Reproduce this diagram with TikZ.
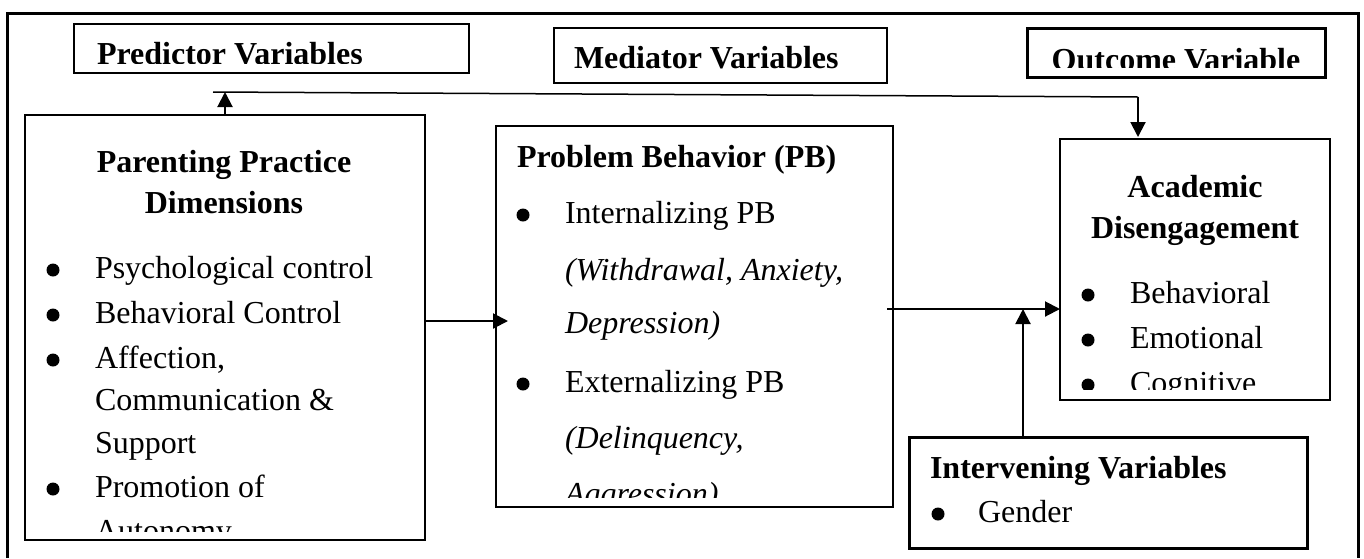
\documentclass[tikz,border=0pt]{standalone}
\usepackage{fontspec}
\setmainfont{Liberation Serif}
\usetikzlibrary{arrows.meta}
\begin{document}
\begin{tikzpicture}[x=1pt,y=-1pt,
  box/.style={draw, line width=#1, inner sep=0pt, outer sep=0pt},
  box/.default=2pt,
  txt/.style={inner sep=0pt, outer sep=0pt, font=\fontsize{32}{38}\selectfont, anchor=base west},
  hd/.style={txt, font=\fontsize{32}{38}\selectfont\bfseries},
  chd/.style={hd, anchor=base},
  bul/.style={circle, fill, inner sep=0pt, minimum size=13pt, yshift=8pt},
  conn/.style={line width=2pt, -{Triangle[length=15pt,width=15pt]}},
  thin line/.style={line width=1.5pt},
]
\useasboundingbox (0,0) rectangle (1364,558);
% outer frame
\draw[line width=3pt] (7,558) -- (7,13) -- (1358,13) -- (1358,558);

% boxes
\node[box=2pt, minimum width=395pt, minimum height=49pt] (pred) at (271.5,48.5) {};
\node[box=1.5pt, minimum width=333pt, minimum height=55pt] (med) at (720.5,55.5) {};
\node[box=3pt, minimum width=298pt, minimum height=49pt] (out) at (1176,52.5) {};
\node[box=2.5pt, minimum width=400pt, minimum height=425pt] (par) at (225,327.5) {};
\node[box=2pt, minimum width=397pt, minimum height=381pt] (pb) at (694.5,316.5) {};
\node[box=2.5pt, minimum width=270pt, minimum height=261pt] (acad) at (1195,269.5) {};
\node[box=3pt, minimum width=398pt, minimum height=111pt] (inter) at (1108,492.5) {};

% header texts
\begin{scope}
\clip (74,24) rectangle (469,63);
\node[hd] (tpred) at (97,64) {Predictor Variables};
\end{scope}
\node[hd] (tmed) at (574,68) {Mediator Variables};
\begin{scope}
\clip (1027,28) rectangle (1325,67);
\node[chd] (tout) at (1176,70) {Outcome Variable};
\end{scope}

% parenting box
\node[chd] (p1) at (224,172) {Parenting Practice};
\node[chd] (p2) at (224,213) {Dimensions};
\node[bul] (pb1) at (53,278) {};
\node[bul] (pb2) at (53,323) {};
\node[bul] (pb3) at (53,368) {};
\node[bul] (pb4) at (53,497) {};
\node[txt] (pl1) at (95,278) {Psychological control};
\node[txt] (pl2) at (95,323) {Behavioral Control};
\node[txt] (pl3) at (95,368) {Affection,};
\node[txt] (pl4) at (95,410) {Communication \&};
\node[txt] (pl5) at (95,453) {Support};
\node[txt] (pl6) at (95,497) {Promotion of};
\begin{scope}
\clip (26,116) rectangle (424,531);
\node[txt] (pl7) at (95,541) {Autonomy};
\end{scope}

% problem behaviour box
\node[hd] (bh) at (517,167) {Problem Behavior (PB)};
\node[bul] (bb1) at (523,223) {};
\node[bul] (bb2) at (523,392) {};
\node[txt] (bl1) at (565,223) {Internalizing PB};
\node[txt] (bl2) at (565,280) {\itshape (Withdrawal, Anxiety,};
\node[txt] (bl3) at (565,333) {\itshape Depression)};
\node[txt] (bl4) at (565,392) {Externalizing PB};
\node[txt] (bl5) at (565,448) {\itshape (Delinquency,};
\begin{scope}
\clip (497,127) rectangle (892,497);
\node[txt] (bl6) at (565,504) {\itshape Aggression)};
\end{scope}

% academic box
\node[chd] (a1) at (1195,197) {Academic};
\node[chd] (a2) at (1195,238) {Disengagement};
\node[bul] (ab1) at (1088,303) {};
\node[bul] (ab2) at (1088,348) {};
\node[txt] (al1) at (1130,303) {Behavioral};
\node[txt] (al2) at (1130,348) {Emotional};
\begin{scope}
\clip (1061,140) rectangle (1329,389);
\node[bul] (ab3) at (1088,393) {};
\node[txt] (al3) at (1130,393) {Cognitive};
\end{scope}

% intervening box
\node[hd] (ih) at (930,478) {Intervening Variables};
\node[bul] (ib1) at (938,522) {};
\node[txt] (il1) at (978,522) {Gender};

% connectors
\coordinate (tl) at (213,92);
\coordinate (tr) at (1138,97);
\coordinate (ya) at (0,321);
\coordinate (yb) at (0,309);
\coordinate (xc) at (1023,0);
\draw[conn] (par.north) -- (par.north |- tl);
\draw[thin line] (tl) -- (tr);
\draw[conn] (tr) -- ([yshift=2pt]acad.north -| tr);
\draw[conn, shorten >=-12pt] (par.east |- ya) -- (pb.west |- ya);
\draw[conn, shorten <=-6pt] (pb.east |- yb) -- (acad.west |- yb);
\draw[conn] (inter.north -| xc) -- (xc |- yb);
\end{tikzpicture}
\end{document}
